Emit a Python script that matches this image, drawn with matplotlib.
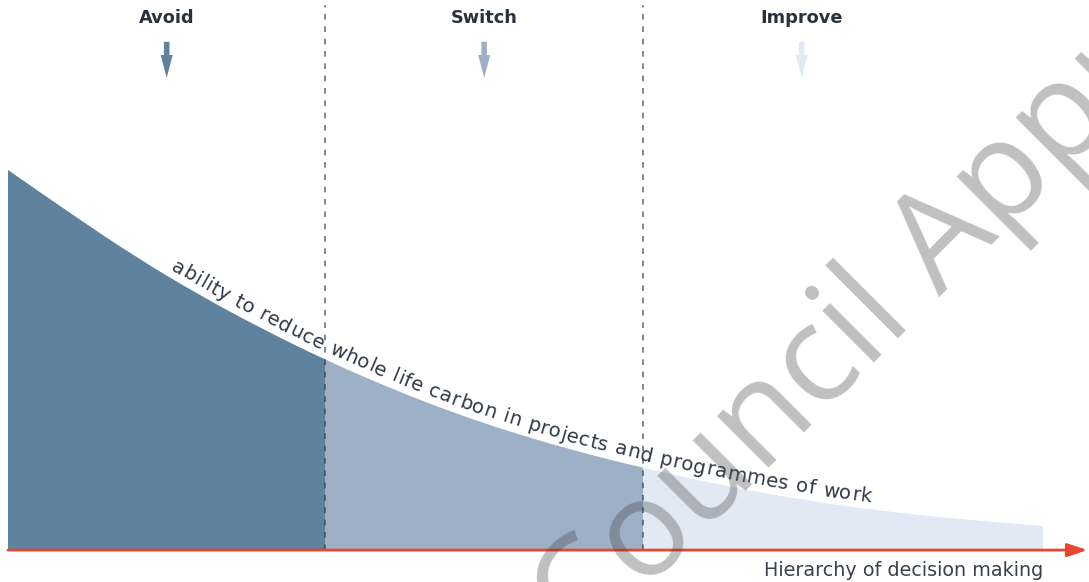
import numpy as np
import matplotlib
matplotlib.use("Agg")
import matplotlib.pyplot as plt
from matplotlib.path import Path
from matplotlib.patches import PathPatch
from matplotlib.font_manager import FontProperties, findfont, get_font
from matplotlib import ft2font

# Position along the hierarchy of decision making (0 = start of "Avoid")
hierarchy = [0.0, 0.2, 0.4, 0.6, 0.8, 1.0, 1.2, 1.4, 1.6, 1.8, 2.0,
             2.25, 2.5, 2.75, 3.0, 3.26]
# Relative ability to reduce whole life carbon
ability = [1.000, 0.884, 0.772, 0.672, 0.582, 0.500, 0.427, 0.362, 0.306,
           0.258, 0.216, 0.170, 0.132, 0.103, 0.081, 0.063]

stages = ["Avoid", "Switch", "Improve"]
stage_centres = [0.5, 1.5, 2.5]
stage_bounds = [1.0, 2.0]
stage_colors = ["#5f829e", "#9db0c6", "#e0e9f4"]

curve_label = "ability to reduce whole life carbon in projects and programmes of work"
axis_label = "Hierarchy of decision making"
watermark = "Council Approved"

fig = plt.figure(figsize=(10.89, 5.82), dpi=100)
ax = fig.add_axes([0, 0, 1, 1])
ax.set_xlim(-0.025, 3.405)
ax.set_ylim(-0.084, 1.447)
ax.axis("off")

x = np.asarray(hierarchy)
y = np.asarray(ability)
pts = np.column_stack([x, y])

# smooth curve through the readings (quadratic B-spline via midpoints)
verts = [pts[0], (pts[0] + pts[1]) / 2]
codes = [Path.MOVETO, Path.LINETO]
n = len(pts)
for i in range(1, n - 1):
    end = (pts[i] + pts[i + 1]) / 2 if i < n - 2 else pts[i + 1]
    verts += [pts[i], end]
    codes += [Path.CURVE3, Path.CURVE3]
curve_path = Path(verts, codes)

area_path = Path(verts + [(x[-1], 0.0), (x[0], 0.0), (x[0], 0.0)],
                 codes + [Path.LINETO, Path.LINETO, Path.CLOSEPOLY])
area = PathPatch(area_path, facecolor="none", edgecolor="none",
                 transform=ax.transData)
ax.add_patch(area)

# three shaded stages under the curve
edges = [x[0]] + stage_bounds + [x[-1]]
for k, col in enumerate(stage_colors):
    span = ax.axvspan(edges[k], edges[k + 1], ymin=0, ymax=1, color=col,
                      lw=0, zorder=1)
    span.set_clip_path(area)

# dashed stage separators
ax.vlines(stage_bounds, 0, 1.434, colors="#2e3842", alpha=0.7, lw=1.2,
          linestyles=[(0, (3.4, 4.0))], zorder=3)

# stage headings with arrows
for name, u, col in zip(stages, stage_centres, stage_colors):
    ax.text(u, 1.387, name, ha="center", va="baseline", fontsize=12.8,
            fontweight="bold", color="#28323e", zorder=5)
    ax.annotate("", xy=(u, 1.242), xytext=(u, 1.337),
                arrowprops=dict(arrowstyle="simple,head_length=1.65,head_width=0.86,tail_width=0.4",
                                fc=col, ec="none", lw=0, shrinkA=0, shrinkB=0,
                                mutation_scale=10), zorder=5)

# horizontal axis arrow
ax.annotate("", xy=(3.40, 0), xytext=(0, 0),
            arrowprops=dict(arrowstyle="-|>,head_length=1.2,head_width=0.4",
                            color="#e8472b", lw=2, shrinkA=0, shrinkB=0,
                            mutation_scale=10), zorder=4)
ax.text(3.26, -0.068, axis_label, ha="right", va="baseline", fontsize=13.8,
        color="#38424d", zorder=5)

# label written along the curve
label_size = 14.2
label_font = FontProperties(family="DejaVu Sans", size=label_size)
ft = get_font(findfont(label_font))
ft.set_size(label_size, fig.dpi)
_flags = getattr(ft2font, "LoadFlags", None)
_no_hint = _flags.NO_HINTING if _flags is not None else ft2font.LOAD_NO_HINTING
adv = np.array([ft.load_char(ord(c), flags=_no_hint).linearHoriAdvance / 65536.0
                for c in curve_label])

dense = [pts[0][None, :]]
tt = np.linspace(0, 1, 80)[1:]
for bez, code in curve_path.iter_bezier(simplify=False):
    if code == Path.MOVETO:
        continue
    dense.append(bez(tt))
dense = np.vstack(dense)

trans = ax.transData
disp = trans.transform(dense)
tang = np.gradient(disp, axis=0)
tang /= np.linalg.norm(tang, axis=1)[:, None]
normal = np.column_stack([-tang[:, 1], tang[:, 0]])
path = disp + normal * 7.0
s = np.concatenate([[0], np.cumsum(np.hypot(*np.diff(path, axis=0).T))])

text_start_u, text_end_u = 0.50, 2.715
s0 = np.interp(text_start_u, dense[:, 0], s)
s1 = np.interp(text_end_u, dense[:, 0], s)
tracking = ((s1 - s0) - adv.sum()) / (len(curve_label) - 1)
lead = s0
inv = trans.inverted()
for ch, a in zip(curve_label, adv):
    sc = lead + a / 2
    lead += a + tracking
    if ch == " ":
        continue
    px = np.interp(sc, s, path[:, 0])
    py = np.interp(sc, s, path[:, 1])
    h = max(a / 2, 4)
    xa, ya = np.interp(sc - h, s, path[:, 0]), np.interp(sc - h, s, path[:, 1])
    xb, yb = np.interp(sc + h, s, path[:, 0]), np.interp(sc + h, s, path[:, 1])
    ang = np.degrees(np.arctan2(yb - ya, xb - xa))
    dx, dy = inv.transform((px, py))
    ax.text(dx, dy, ch, fontproperties=label_font, color="#2f3a46",
            rotation=ang, rotation_mode="anchor", ha="center", va="baseline",
            zorder=6)

# diagonal watermark
ax.text(1.811, -0.271, watermark, rotation=45, rotation_mode="anchor",
        ha="left", va="baseline", fontsize=98, family="Open Sans",
        color="#404040", alpha=0.33, zorder=10, clip_on=False)

fig.savefig("out.png", dpi=100)
